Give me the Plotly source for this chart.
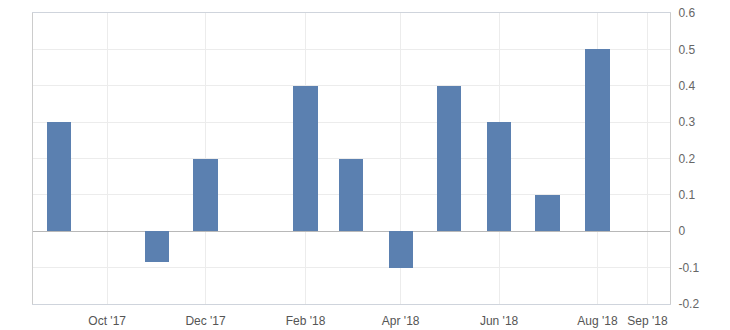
import plotly.graph_objects as go

months = ["2017-09-01", "2017-10-01", "2017-11-01", "2017-12-01", "2018-01-01", "2018-02-01",
          "2018-03-01", "2018-04-01", "2018-05-01", "2018-06-01", "2018-07-01", "2018-08-01"]
values = [0.3, 0.0, -0.085, 0.2, 0.0, 0.4, 0.2, -0.1, 0.4, 0.3, 0.1, 0.5]

tick_dates = ["2017-10-01", "2017-12-01", "2018-02-01", "2018-04-01", "2018-06-01", "2018-08-01", "2018-09-01"]
tick_labels = ["Oct '17", "Dec '17", "Feb '18", "Apr '18", "Jun '18", "Aug '18", "Sep '18"]
y_ticks = [-0.2, -0.1, 0, 0.1, 0.2, 0.3, 0.4, 0.5, 0.6]
y_labels = ["-0.2", "-0.1", "0", "0.1", "0.2", "0.3", "0.4", "0.5", "0.6"]

fig = go.Figure()
fig.add_trace(go.Bar(
    x=months, y=values,
    width=15 * 86400000,
    marker=dict(color="#5b80b0", line=dict(width=0)),
))

fig.update_layout(
    width=730, height=330,
    margin=dict(l=33, r=60, t=13, b=26),
    paper_bgcolor="white", plot_bgcolor="white",
    showlegend=False,
    font=dict(family="Liberation Sans, Arial, sans-serif", size=12, color="#555555"),
    bargap=0,
)
fig.update_xaxes(
    type="date",
    range=["2017-08-16", "2018-09-15"],
    tickvals=tick_dates, ticktext=tick_labels,
    showgrid=True, gridcolor="#ececec", gridwidth=1,
    showline=True, linecolor="#cfd4dc", linewidth=1, mirror=True,
    ticks="", ticklabelstandoff=6, automargin=False,
    tickfont=dict(size=12, color="#555555"),
)
fig.update_yaxes(
    side="right",
    range=[-0.2, 0.6],
    tickvals=y_ticks, ticktext=y_labels,
    showgrid=True, gridcolor="#ececec", gridwidth=1,
    zeroline=True, zerolinecolor="#b8b8b8", zerolinewidth=1,
    showline=True, linecolor="#cccccc", linewidth=1, mirror=True,
    ticks="", ticklabelstandoff=5, automargin=False,
    tickfont=dict(size=12, color="#666666"),
)

fig.write_html("out.html")
